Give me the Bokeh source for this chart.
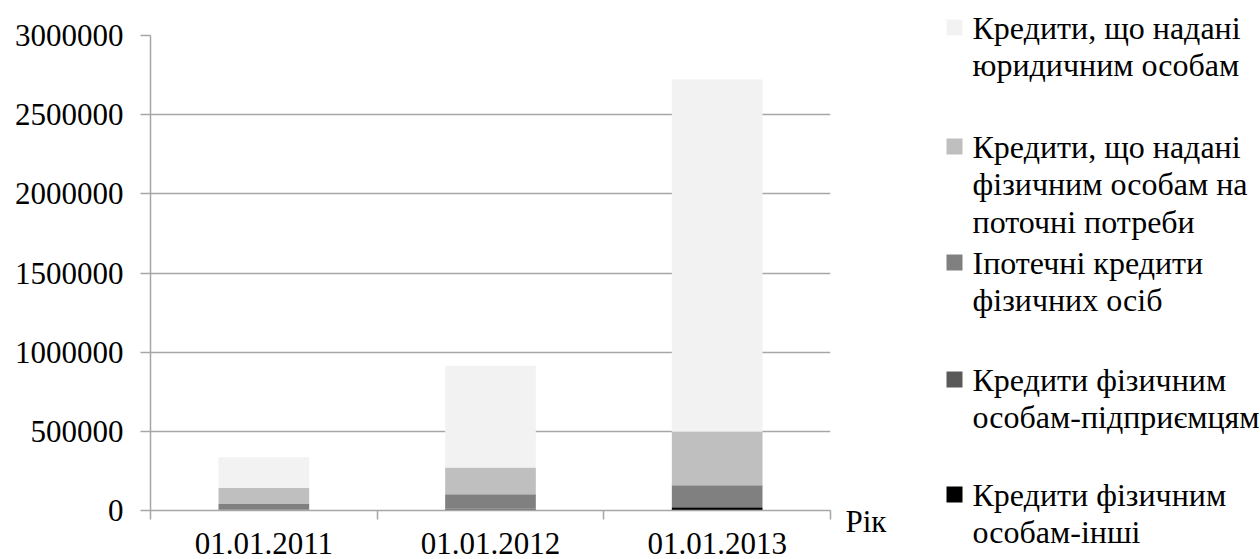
from bokeh.plotting import figure
from bokeh.models import Range1d, FixedTicker
from bokeh.embed import file_html
from bokeh.resources import INLINE
from bokeh.core.properties import value

# ---- data ----
categories = ["01.01.2011", "01.01.2012", "01.01.2013"]
series_names = ["other", "entrepreneur", "mortgage", "consumer", "legal"]
other        = [2000, 5000, 16000]
entrepreneur = [3000, 8000, 6000]
mortgage     = [39000, 90000, 137000]
consumer     = [99000, 169000, 339000]
legal        = [194000, 642000, 2224000]
y_ticks = [0, 500000, 1000000, 1500000, 2000000, 2500000, 3000000]
y_tick_labels = ["0", "500000", "1000000", "1500000", "2000000", "2500000", "3000000"]
legend_labels = [
    "Кредити, що надані\nюридичним особам",
    "Кредити, що надані\nфізичним  особам на\nпоточні потреби",
    "Іпотечні кредити\nфізичних осіб",
    "Кредити фізичним\nособам-підприємцям",
    "Кредити фізичним\nособам-інші",
]
x_title = "Рік"

colors = {"other": "#000000", "entrepreneur": "#595959", "mortgage": "#808080",
          "consumer": "#bfbfbf", "legal": "#f2f2f2"}
FONT = "Liberation Serif"
GRID = "#a6a6a6"
FS = "31px"
LFS = "32px"

xs = [i + 0.5 for i in range(len(categories))]
src = dict(x=xs, other=other, entrepreneur=entrepreneur, mortgage=mortgage,
           consumer=consumer, legal=legal)

W, H = 1260, 559
FL, FR, FT, FB = 150, 830, 35, 510   # frame edges in page pixels
p = figure(x_range=Range1d(0, len(categories)), y_range=Range1d(0, 3000000),
           width=W, height=H,
           min_border_left=FL, min_border_right=W - FR, min_border_top=FT, min_border_bottom=H - FB,
           output_backend="svg", toolbar_location=None, background_fill_color="white",
           border_fill_color="white")
p.outline_line_color = None
# pixel-space ranges for the legend / axis title drawn outside the frame
p.extra_x_ranges = {"px": Range1d(FL, FR)}
p.extra_y_ranges = {"px": Range1d(FB, FT)}

p.vbar_stack(series_names, x="x", width=0.4, source=src,
             color=[colors[s] for s in series_names], line_color=None)

# y axis
p.yaxis.ticker = FixedTicker(ticks=y_ticks)
p.yaxis.major_label_overrides = {t: l for t, l in zip(y_ticks, y_tick_labels)}
p.yaxis.major_label_text_font = FONT
p.yaxis.major_label_text_font_size = FS
p.yaxis.major_label_text_color = "black"
p.yaxis.major_label_standoff = 17
p.yaxis.major_tick_out = 10
p.yaxis.major_tick_in = 0
p.yaxis.minor_tick_line_color = None
p.yaxis.axis_line_color = GRID
p.yaxis.axis_line_width = 1.5
p.yaxis.major_tick_line_color = GRID
p.yaxis.major_tick_line_width = 1.5

# x axis
p.xaxis.ticker = FixedTicker(ticks=xs, minor_ticks=list(range(len(categories) + 1)))
p.xaxis.major_label_overrides = {x: c for x, c in zip(xs, categories)}
p.xaxis.major_label_text_font = FONT
p.xaxis.major_label_text_font_size = FS
p.xaxis.major_label_text_color = "black"
p.xaxis.major_label_standoff = 13
p.xaxis.major_tick_out = 0
p.xaxis.major_tick_in = 0
p.xaxis.major_tick_line_color = None
p.xaxis.minor_tick_out = 9
p.xaxis.minor_tick_in = 0
p.xaxis.minor_tick_line_color = GRID
p.xaxis.minor_tick_line_width = 1.5
p.xaxis.axis_line_color = GRID
p.xaxis.axis_line_width = 1.5

p.xgrid.grid_line_color = None
p.ygrid.ticker = FixedTicker(ticks=y_ticks)
p.ygrid.grid_line_color = GRID
p.ygrid.grid_line_width = 1.5

# axis title right of the x axis
p.text(x=[845], y=[521], text=[x_title], text_font=value(FONT), text_font_size=FS,
       text_color="black", text_baseline="middle", text_align="left",
       x_range_name="px", y_range_name="px", level="overlay")

# legend
entry_y = [27, 146, 262, 379, 494]
line_step = 37.5
order = ["legal", "consumer", "mortgage", "entrepreneur", "other"]
sq_x, sq_y, sq_c, tx, ty, tt = [], [], [], [], [], []
for name, lab, y0 in zip(order, legend_labels, entry_y):
    sq_x.append(954); sq_y.append(y0); sq_c.append(colors[name])
    for i, line in enumerate(lab.split("\n")):
        tx.append(972); ty.append(y0 + i * line_step); tt.append(line)
p.rect(x=sq_x, y=sq_y, width=16, height=16, color=sq_c, line_color=None,
       x_range_name="px", y_range_name="px", level="overlay")
p.text(x=tx, y=ty, text=tt, text_font=value(FONT), text_font_size=LFS,
       text_color="black", text_baseline="middle", text_align="left",
       x_range_name="px", y_range_name="px", level="overlay")

open("out.html", "w").write(file_html(p, INLINE))
